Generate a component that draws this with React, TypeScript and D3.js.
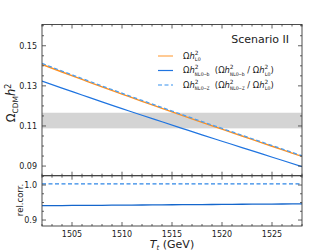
import React from 'react';
import * as d3 from 'd3';

// Data (GeV vs relic density)
const tGeV = [1502, 1504, 1506, 1508, 1510, 1512, 1514, 1516, 1518, 1520, 1522, 1524, 1526, 1528];
const omegaLO = [0.1407, 0.1369, 0.1332, 0.1295, 0.1259, 0.1223, 0.1188, 0.1153, 0.1118, 0.1084, 0.105, 0.1016, 0.0982, 0.0948];
const omegaNLOb = [0.1324, 0.12888, 0.12545, 0.12201, 0.11867, 0.11533, 0.11208, 0.10882, 0.10556, 0.10239, 0.09923, 0.09605, 0.09288, 0.0897];
const omegaNLOZ = [0.14119, 0.13738, 0.13367, 0.12995, 0.12634, 0.12273, 0.11922, 0.1157, 0.11219, 0.10878, 0.10537, 0.10196, 0.09854, 0.09513];
const planckBand = [0.1088, 0.1166];
const xTicks = [1505, 1510, 1515, 1520, 1525];
const yTicksMain = [0.09, 0.11, 0.13, 0.15];
const yTicksRatio = [0.9, 1.0];

const W = 336;
const H = 252;
const left = 42;
const right = 302;
const mainTop = 24.5;
const mainBottom = 175.7;
const ratioBottom = 226;

const cOrange = '#ff8f1f';
const cBlue = '#1f74e0';
const cLight = '#4c9ff0';
const axisCol = '#3a3a3a';
const font = 'DejaVu Sans, sans-serif';

// Ωh² with a stacked super/subscript, followed by plain text
function omegaH(sub: string, after: string, key: string, fs = 8.4) {
  return [
    <tspan key={key + 'a'} fontSize={fs}>Ω</tspan>,
    <tspan key={key + 'b'} fontSize={fs} fontStyle="italic">h</tspan>,
    <tspan key={key + 'c'} fontSize={5.8} dy={-4}>2</tspan>,
    <tspan key={key + 'd'} fontSize={4.9} fontFamily="DejaVu Sans Mono, monospace" dx={-3.6} dy={6.6}>{sub}</tspan>,
    <tspan key={key + 'e'} fontSize={fs} dy={-2.6}>{after}</tspan>,
  ];
}

export default function App() {
  const x = d3.scaleLinear().domain([1502, 1528]).range([left, right]);
  const y = d3.scaleLinear().domain([0.0852, 0.1606]).range([mainBottom, mainTop]);
  const yr = d3.scaleLinear().domain([0.883, 1.0266]).range([ratioBottom, mainBottom]);

  const lineMain = (vals: number[]) =>
    d3.line<number>().x((_, i) => x(tGeV[i])).y((v) => y(v)).curve(d3.curveMonotoneX)(vals) || '';
  const lineRatio = (vals: number[]) =>
    d3.line<number>().x((_, i) => x(tGeV[i])).y((v, i) => yr(v / omegaLO[i])).curve(d3.curveMonotoneX)(vals) || '';

  const xMinor = d3.range(1502, 1529, 1);
  const yMinorMain = d3.range(0.09, 0.1601, 0.005);
  const yMinorRatio = d3.range(0.9, 1.026, 0.025);

  const ticksX = (yPos: number, dir: number, key: string) =>
    xMinor.map((v) => {
      const major = xTicks.includes(v);
      return <line key={key + v} x1={x(v)} x2={x(v)} y1={yPos} y2={yPos + dir * (major ? 4 : 2)} stroke={axisCol} strokeWidth={0.8} />;
    });

  const ticksY = (vals: number[], majors: number[], sc: (v: number) => number, key: string) =>
    vals.flatMap((v) => {
      const major = majors.some((m) => Math.abs(m - v) < 1e-6);
      const len = major ? 4 : 2;
      return [
        <line key={key + 'l' + v} x1={left} x2={left + len} y1={sc(v)} y2={sc(v)} stroke={axisCol} strokeWidth={0.8} />,
        <line key={key + 'r' + v} x1={right} x2={right - len} y1={sc(v)} y2={sc(v)} stroke={axisCol} strokeWidth={0.8} />,
      ];
    });

  const legendY = [56, 70.5, 85];

  return (
    <svg width={W} height={H} style={{ position: 'absolute', left: 0, top: 0, background: '#fff' }} fontFamily={font}>
      <defs>
        <clipPath id="mainClip">
          <rect x={left} y={mainTop} width={right - left} height={mainBottom - mainTop} />
        </clipPath>
        <clipPath id="ratioClip">
          <rect x={left} y={mainBottom} width={right - left} height={ratioBottom - mainBottom} />
        </clipPath>
      </defs>

      {/* main panel */}
      <g clipPath="url(#mainClip)">
        <rect x={left} y={y(planckBand[1])} width={right - left} height={y(planckBand[0]) - y(planckBand[1])} fill="#d4d4d4" />
        <path d={lineMain(omegaLO)} fill="none" stroke={cOrange} strokeWidth={1.4} />
        <path d={lineMain(omegaNLOb)} fill="none" stroke={cBlue} strokeWidth={1.2} />
        <path d={lineMain(omegaNLOZ)} fill="none" stroke={cLight} strokeWidth={1.3} strokeDasharray="4,2.5" />
      </g>

      {/* ratio panel */}
      <g clipPath="url(#ratioClip)">
        <path d={lineRatio(omegaNLOb)} fill="none" stroke="#1466cc" strokeWidth={1.3} />
        <path d={lineRatio(omegaNLOZ)} fill="none" stroke="#2f86e6" strokeWidth={1.3} strokeDasharray="4,2.5" />
      </g>

      {/* frames */}
      <rect x={left} y={mainTop} width={right - left} height={mainBottom - mainTop} fill="none" stroke={axisCol} strokeWidth={0.9} />
      <rect x={left} y={mainBottom} width={right - left} height={ratioBottom - mainBottom} fill="none" stroke={axisCol} strokeWidth={0.9} />

      {ticksX(mainTop, 1, 'mt')}
      {ticksX(mainBottom, -1, 'mb')}
      {ticksX(mainBottom, 1, 'rt')}
      {ticksX(ratioBottom, -1, 'rb')}
      {ticksY(yMinorMain, yTicksMain, y, 'ym')}
      {ticksY(yMinorRatio, yTicksRatio, yr, 'yr')}

      {/* tick labels */}
      {yTicksMain.map((v) => (
        <text key={'yl' + v} x={37} y={y(v) + 2.8} fontSize={8} textAnchor="end" fill="#222">{v.toFixed(2)}</text>
      ))}
      {yTicksRatio.map((v) => (
        <text key={'yrl' + v} x={37} y={yr(v) + 2.8} fontSize={8} textAnchor="end" fill="#222">{v.toFixed(1)}</text>
      ))}
      {xTicks.map((v) => (
        <text key={'xl' + v} x={x(v)} y={237} fontSize={8} textAnchor="middle" fill="#222">{v}</text>
      ))}

      {/* axis titles */}
      <text transform="translate(15,103) rotate(-90)" textAnchor="middle" fontSize={11.5} fill="#222">
        <tspan>Ω</tspan>
        <tspan fontSize={7.5} dy={2.8}>CDM</tspan>
        <tspan fontStyle="italic" dy={-2.8}>h</tspan>
        <tspan fontSize={8} dy={-4.5}>2</tspan>
      </text>
      <text transform="translate(23,200) rotate(-90)" textAnchor="middle" fontSize={8.5} fill="#222">rel.corr.</text>
      <text x={172} y={248} textAnchor="middle" fontSize={11} fill="#222">
        <tspan fontStyle="italic">T</tspan>
        <tspan fontStyle="italic" fontSize={7} dy={2.2}>t</tspan>
        <tspan dy={-2.2}> (GeV)</tspan>
      </text>

      {/* legend */}
      <text x={289} y={43} fontSize={11} textAnchor="end" fill="#222">Scenario II</text>
      <line x1={158} x2={173} y1={legendY[0]} y2={legendY[0]} stroke="#ffb366" strokeWidth={1.4} />
      <line x1={158} x2={173} y1={legendY[1]} y2={legendY[1]} stroke={cBlue} strokeWidth={1.2} />
      <line x1={158} x2={173} y1={legendY[2]} y2={legendY[2]} stroke="#7ab6f3" strokeWidth={1.3} strokeDasharray="4,2.5" />
      <text x={183} y={legendY[0] + 2.5} fill="#222" style={{ whiteSpace: 'pre' }}>
        {omegaH('LO', '', 'a')}
      </text>
      <text x={183} y={legendY[1] + 2.5} fill="#222" style={{ whiteSpace: 'pre' }}>
        {omegaH('NLO−b', '  (', 'b1')}
        {omegaH('NLO−b', ' / ', 'b2')}
        {omegaH('LO', ')', 'b3')}
      </text>
      <text x={183} y={legendY[2] + 2.5} fill="#222" style={{ whiteSpace: 'pre' }}>
        {omegaH('NLO−Z', '  (', 'c1')}
        {omegaH('NLO−Z', ' / ', 'c2')}
        {omegaH('LO', ')', 'c3')}
      </text>
    </svg>
  );
}
